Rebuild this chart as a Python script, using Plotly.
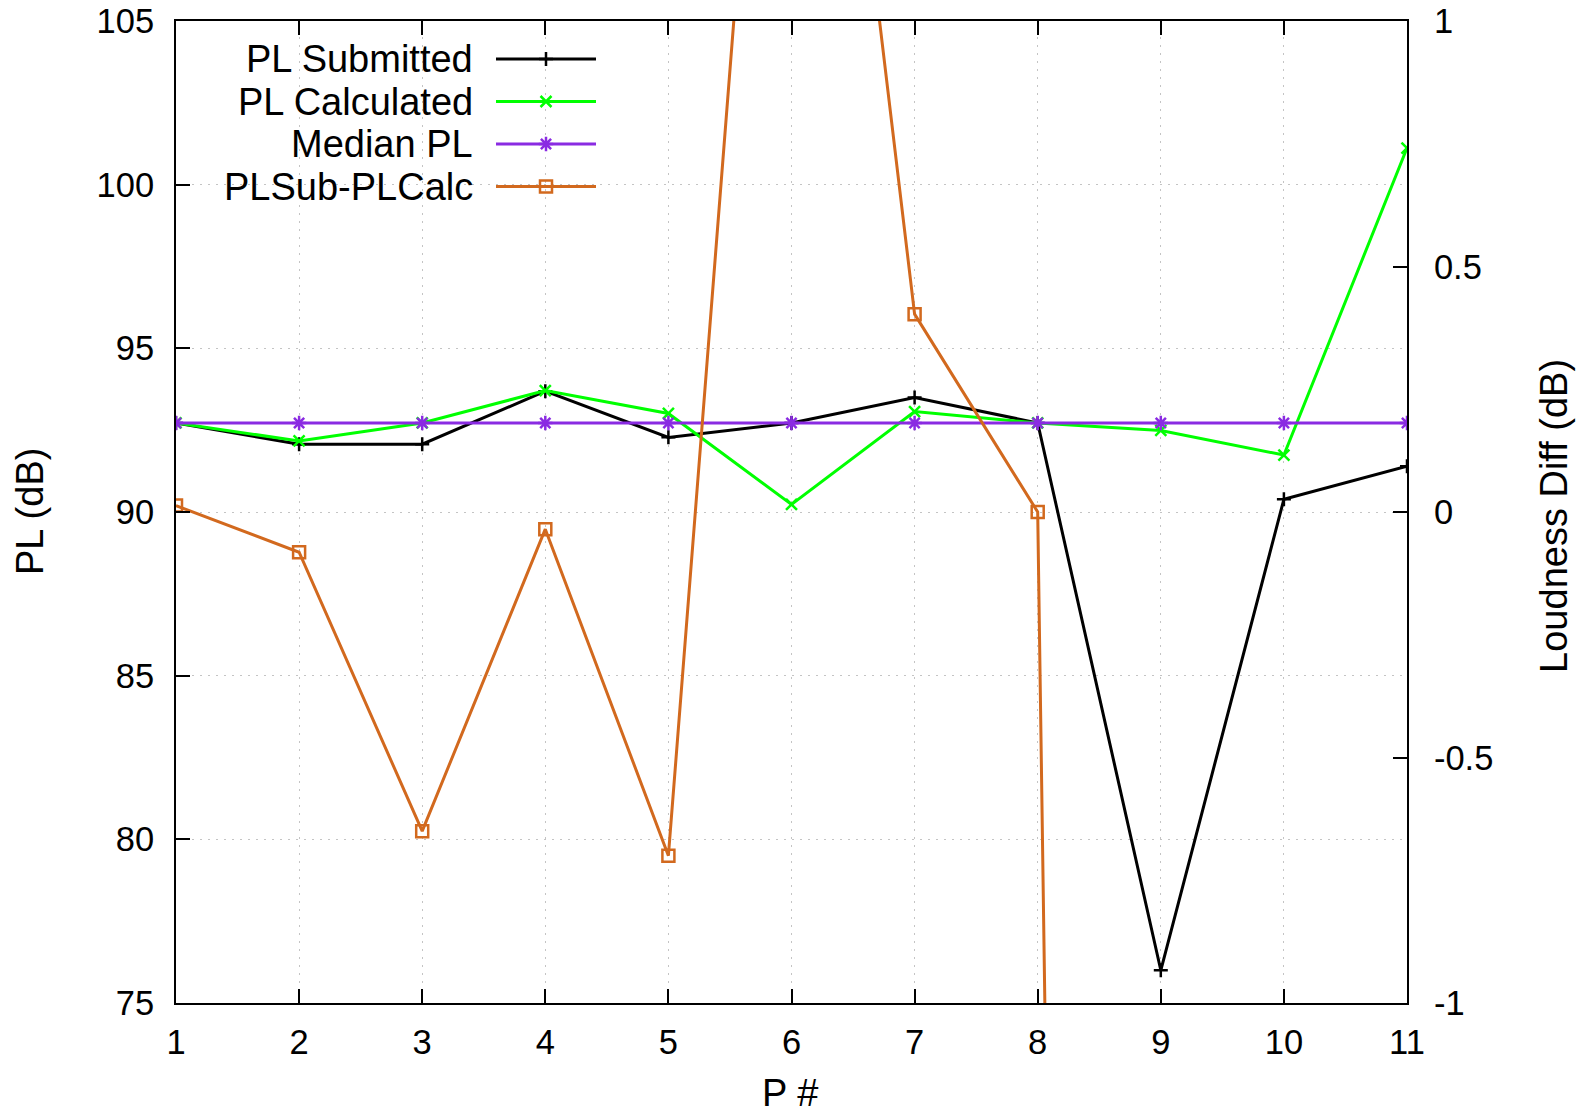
import plotly.graph_objects as go

# Participant numbers on the x axis
participants = [1, 2, 3, 4, 5, 6, 7, 8, 9, 10, 11]

# Programme loudness values (dB), left axis
pl_submitted = [92.72, 92.07, 92.07, 93.69, 92.28, 92.72, 93.50, 92.72, 76.00, 90.39, 91.40]
pl_calculated = [92.72, 92.17, 92.72, 93.71, 93.01, 90.23, 93.07, 92.72, 92.49, 91.74, 101.12]
median_pl = [92.72, 92.72, 92.72, 92.72, 92.72, 92.72, 92.72, 92.72, 92.72, 92.72, 92.72]

# Submitted minus calculated loudness (dB), right axis
pl_diff = [0.013, -0.082, -0.65, -0.035, -0.70, 2.50, 0.403, 0.0, -17.2, -1.35, -9.72]

# Axis ticks
left_ticks = [75, 80, 85, 90, 95, 100, 105]
right_tickvals = [-1, -0.5, 0, 0.5, 1]
right_ticktext = ["-1", "-0.5", "0", "0.5", "1"]

# Key entries
key_names = ["PL Submitted", "PL Calculated", "Median PL", "PLSub-PLCalc"]
key_colors = ["#000000", "#00ff00", "#8a2be2", "#d2691e"]
key_symbols = ["cross-thin", "x-thin", "asterisk-open", "square-open"]
key_sizes = [10, 11, 12, 12]

FONT = "Liberation Sans, Arial, Helvetica, sans-serif"
tick_font = dict(family=FONT, size=34.5, color="black")
label_font = dict(family=FONT, size=38, color="black")
grid_color = "#c4c4c4"
grid_dash = "2px,6px"
LINE_W = 3
MARK_W = 2.5

fig = go.Figure()

series = [pl_submitted, pl_calculated, median_pl]
for name, values, color, symbol, size in zip(key_names[:3], series, key_colors[:3],
                                            key_symbols[:3], key_sizes[:3]):
    fig.add_trace(go.Scatter(
        x=participants, y=values, name=name, mode="lines+markers",
        line=dict(color=color, width=LINE_W),
        marker=dict(symbol=symbol, size=size, color=color,
                    line=dict(color=color, width=MARK_W)),
        xaxis="x", yaxis="y", cliponaxis=True,
    ))

fig.add_trace(go.Scatter(
    x=participants, y=pl_diff, name=key_names[3], mode="lines+markers",
    line=dict(color=key_colors[3], width=LINE_W),
    marker=dict(symbol=key_symbols[3], size=key_sizes[3], color=key_colors[3],
                line=dict(color=key_colors[3], width=MARK_W)),
    xaxis="x", yaxis="y2", cliponaxis=True,
))

# Key drawn in a pixel-like overlay frame: text right-aligned, sample to its right
plot_w, plot_h = 1231, 982
key_rows = [38, 80.5, 123, 165.5]
key_line_x = [320, 420]
key_mark_x = [370]
key_text_x = 299
for name, color, symbol, size, ry in zip(key_names, key_colors, key_symbols, key_sizes, key_rows):
    fig.add_trace(go.Scatter(
        x=key_line_x, y=[ry, ry], mode="lines", line=dict(color=color, width=LINE_W),
        xaxis="x3", yaxis="y3", hoverinfo="skip", showlegend=False,
    ))
    fig.add_trace(go.Scatter(
        x=key_mark_x, y=[ry], mode="markers",
        marker=dict(symbol=symbol, size=size, color=color, line=dict(color=color, width=MARK_W)),
        xaxis="x3", yaxis="y3", hoverinfo="skip", showlegend=False,
    ))
    fig.add_annotation(x=key_text_x, y=ry, xref="x3", yref="y3", text=name,
                       showarrow=False, xanchor="right", yanchor="middle", font=label_font)

fig.update_layout(
    width=1585, height=1116,
    margin=dict(l=176, r=178, t=21, b=113, autoexpand=False),
    paper_bgcolor="white", plot_bgcolor="white",
    showlegend=False,
    xaxis=dict(
        range=[1, 11], tickmode="array", tickvals=participants,
        ticks="inside", ticklen=14, tickwidth=1.5, tickcolor="black",
        showline=True, linecolor="black", linewidth=2, mirror="ticks",
        showgrid=True, gridcolor=grid_color, gridwidth=1, griddash=grid_dash,
        zeroline=False, tickfont=tick_font, ticklabelstandoff=8, automargin=False,
    ),
    yaxis=dict(
        range=[75, 105], tickmode="array", tickvals=left_ticks,
        ticks="inside", ticklen=14, tickwidth=1.5, tickcolor="black",
        showline=True, linecolor="black", linewidth=2, mirror=True,
        showgrid=True, gridcolor=grid_color, gridwidth=1, griddash=grid_dash,
        zeroline=False, tickfont=tick_font, ticklabelstandoff=13, automargin=False,
    ),
    yaxis2=dict(
        range=[-1, 1], overlaying="y", side="right", anchor="x",
        tickmode="array", tickvals=right_tickvals, ticktext=right_ticktext,
        ticks="inside", ticklen=14, tickwidth=1.5, tickcolor="black",
        showline=True, linecolor="black", linewidth=2,
        showgrid=False, zeroline=False, tickfont=tick_font, ticklabelstandoff=18,
        automargin=False,
    ),
    xaxis3=dict(range=[0, plot_w], overlaying="x", anchor="y3", visible=False,
                fixedrange=True, automargin=False),
    yaxis3=dict(range=[plot_h, 0], overlaying="y", anchor="x3", visible=False,
                fixedrange=True, automargin=False),
)

# Axis titles
fig.add_annotation(text="PL (dB)", xref="paper", yref="paper", x=-0.1186, y=0.5,
                   textangle=-90, showarrow=False, xanchor="center", yanchor="middle",
                   font=label_font)
fig.add_annotation(text="Loudness Diff (dB)", xref="paper", yref="paper", x=1.1194, y=0.496,
                   textangle=-90, showarrow=False, xanchor="center", yanchor="middle",
                   font=label_font)
fig.add_annotation(text="P #", xref="paper", yref="paper", x=0.4988, y=-0.092,
                   showarrow=False, xanchor="center", yanchor="middle", font=label_font)

fig.write_html("out.html")
